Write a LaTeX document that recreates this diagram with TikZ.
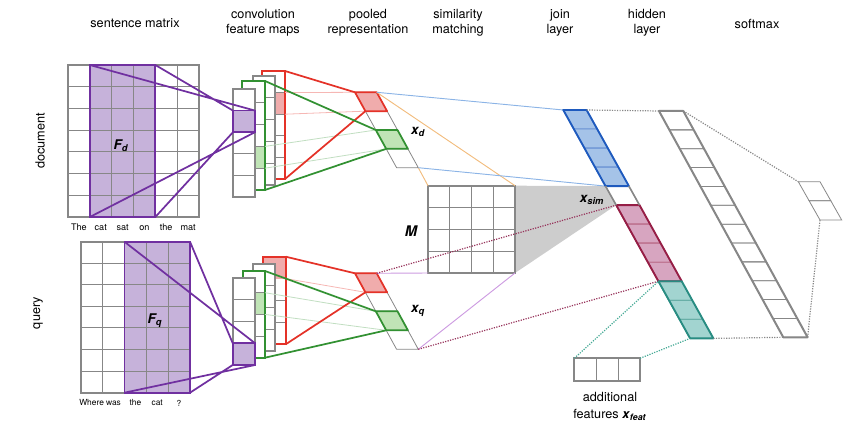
\documentclass[tikz,border=0pt]{standalone}
\usepackage{fontspec}
\setmainfont{TeX Gyre Heros}
\definecolor{gridgray}{RGB}{135,135,135}
\definecolor{purp}{RGB}{112,48,160}
\definecolor{purpfill}{RGB}{198,178,218}
\definecolor{redc}{RGB}{228,50,40}
\definecolor{redfill}{RGB}{240,172,172}
\definecolor{greenc}{RGB}{50,145,50}
\definecolor{greenfill}{RGB}{192,228,182}
\definecolor{bluec}{RGB}{30,90,190}
\definecolor{bluefill}{RGB}{165,195,232}
\definecolor{pinkc}{RGB}{150,30,70}
\definecolor{pinkfill}{RGB}{215,165,192}
\definecolor{tealc}{RGB}{40,140,130}
\definecolor{tealfill}{RGB}{162,212,208}
\definecolor{lblue}{RGB}{140,180,230}
\definecolor{lorange}{RGB}{242,188,125}
\definecolor{lpurp}{RGB}{205,155,225}
\definecolor{maroonc}{RGB}{150,50,90}
\definecolor{tealdot}{RGB}{70,170,150}
\definecolor{trigray}{RGB}{205,205,205}
\tikzset{
  outerline/.style={draw=gridgray,line width=1.5pt},
  innerline/.style={draw=gridgray,line width=0.75pt},
  thinline/.style={draw=gridgray,line width=0.6pt},
  purpline/.style={draw=purp,line width=1.3pt},
  redline/.style={draw=redc,line width=1.3pt},
  greenline/.style={draw=greenc,line width=1.3pt},
  fainted/.style={draw=redc!35,line width=0.6pt},
  faintgreen/.style={draw=greenc!30,line width=0.6pt},
  dotline/.style={densely dotted,line width=0.9pt},
  title/.style={font=\fontsize{9.5}{11}\selectfont,align=center},
  word/.style={font=\fontsize{6.8}{8}\selectfont},
  blab/.style={font=\fontsize{10}{12}\selectfont\bfseries\itshape},
}
% parallelogram strip: #1 x0, #2 y0, #3 width, #4 cell height, #5 shift, #6 cells
\newcommand{\stripcells}[6]{%
  \foreach \k in {1,...,#6}{%
    \draw[thinline] (#1+\k*#5-#5,#2+\k*#4-#4) -- (#1+\k*#5-#5+#3,#2+\k*#4-#4) -- (#1+\k*#5+#3,#2+\k*#4) -- (#1+\k*#5,#2+\k*#4) -- cycle;}%
}
% one colored cell: #1 x0, #2 y0, #3 w, #4 h, #5 s, #6 index(0-based), #7 draw colour, #8 fill colour, #9 line width
\newcommand{\pcell}[9]{%
  \filldraw[draw=#7,fill=#8,line width=#9,line join=round] (#1+#6*#5,#2+#6*#4) -- (#1+#6*#5+#3,#2+#6*#4) -- (#1+#6*#5+#5+#3,#2+#6*#4+#4) -- (#1+#6*#5+#5,#2+#6*#4+#4) -- cycle;}
% a column of cells: #1 x1,#2 y1,#3 x2,#4 y2,#5 rows,#6 colour
\newcommand{\fmapcol}[6]{%
  \fill[white] (#1,#2) rectangle (#3,#4);
  \foreach \r in {1,...,#5}{\draw[innerline] (#1,{#2+(#4-#2)*\r/#5}) -- (#3,{#2+(#4-#2)*\r/#5});}
}
\begin{document}
\begin{tikzpicture}[x=0.75pt,y=-0.75pt]
\useasboundingbox (0,0) rectangle (865,442);

% ---------- titles ----------
\node[title] (t1) at (135,23) {sentence matrix};
\node[title] (t2) at (263,23) {convolution\\feature maps};
\node[title] (t3) at (368,23) {pooled\\representation};
\node[title] (t4) at (458,23) {similarity\\matching};
\node[title] (t5) at (560,23) {join\\layer};
\node[title] (t6) at (647,23) {hidden\\layer};
\node[title] (t7) at (757,24) {softmax};
\node[title,rotate=90] (sd) at (40,141) {document};
\node[title,rotate=90] (sq) at (38,313) {query};

% ---------- document sentence matrix ----------
\fill[purpfill] (89.83,65) rectangle (155.33,217);
\foreach \i in {1,...,5}{\draw[innerline] ({68+\i*21.833},65) -- ++(0,152);}
\foreach \j in {1,...,6}{\draw[innerline] (68,{65+\j*21.714}) -- ++(131,0);}
\draw[outerline] (68,65) rectangle (199,217);
\draw[purpline] (89.83,65) rectangle (155.33,217);
\node[blab] (fd) at (121,146) {F\textsubscript{d}};
\foreach \w [count=\i from 0] in {The,cat,sat,on,the,mat}{
  \node[word] (dw\i) at ({68+21.833*(\i+0.5)},227.7) {\w};}

% ---------- query sentence matrix ----------
\fill[purpfill] (124.4,241.7) rectangle (190,392.7);
\foreach \i in {1,...,4}{\draw[innerline] ({80.7+\i*21.86},241.7) -- ++(0,151);}
\foreach \j in {1,...,6}{\draw[innerline] (80.7,{241.7+\j*21.571}) -- ++(109.3,0);}
\draw[outerline] (80.7,241.7) rectangle (190,392.7);
\draw[purpline] (124.4,241.7) rectangle (190,392.7);
\node[blab] (fq) at (155,321) {F\textsubscript{q}};
\foreach \w [count=\i from 0] in {Where,was,the,cat,?}{
  \node[word,font=\fontsize{6.3}{8}\selectfont] (qw\i) at ({80.7+21.86*(\i+0.5)},403) {\w};}

% ---------- document feature maps ----------
\fmapcol{262}{71}{285}{179}{5}{red}
\fill[redfill] (262,92.6) rectangle (285,114.2);
\draw[redline] (262,71) rectangle (285,179);
\fmapcol{253}{76}{275}{185}{5}{gray}
\draw[outerline] (253,76) rectangle (275,185);
\fmapcol{242}{81}{265}{190}{5}{green}
\fill[greenfill] (242,146.4) rectangle (265,168.2);
\draw[innerline] (242,146.4) -- (265,146.4) (242,168.2) -- (265,168.2);
\draw[greenline] (242,81) rectangle (265,190);
\fmapcol{233}{89}{255}{197}{5}{gray}
\draw[outerline] (233,89) rectangle (255,197);
\filldraw[purpline,fill=purpfill] (233,110.6) rectangle (255,132.2);

% ---------- query feature maps ----------
\fmapcol{263.3}{256.7}{285.7}{344.3}{4}{red}
\fill[redfill] (263.3,256.7) rectangle (285.7,278.6);
\draw[redline] (263.3,256.7) rectangle (285.7,344.3);
\fmapcol{252.7}{264}{275}{351}{4}{gray}
\draw[outerline] (252.7,264) rectangle (275,351);
\fmapcol{242.7}{271}{265}{357.7}{4}{green}
\fill[greenfill] (242.7,292.7) rectangle (265,314.4);
\draw[innerline] (242.7,292.7) -- (265,292.7) (242.7,314.4) -- (265,314.4);
\draw[greenline] (242.7,271) rectangle (265,357.7);
\fmapcol{232.7}{277.7}{255}{365}{4}{gray}
\draw[outerline] (232.7,277.7) rectangle (255,365);
\filldraw[purpline,fill=purpfill] (232.7,343.2) rectangle (255,365);

% ---------- filter connectors ----------
\draw[purpline] (89.83,65) -- (255,110.6) (155.33,65) -- (233,110.6)
  (89.83,217) -- (255,132.2) (155.33,217) -- (233,132.2);
\draw[purpline] (124.4,241.7) -- (255,343.2) (190,241.7) -- (232.7,343.2)
  (124.4,392.7) -- (255,365) (190,392.7) -- (232.7,365);

% ---------- pooled strips ----------
\stripcells{355}{92.3}{21.7}{18.85}{10.4}{4}
\stripcells{355}{273.3}{21.7}{19}{10.4}{4}

% faint lines
\draw[fainted] (285,92.6) -- (355,92.3) (285,114.2) -- (365.4,111.15);
\draw[faintgreen] (265,146.4) -- (375.8,130) (265,168.2) -- (386.2,148.9);
\draw[fainted] (285.7,278.6) -- (365.4,292.3);
\draw[faintgreen] (265,292.7) -- (375.8,311.3) (265,314.4) -- (386.2,330.3);

% strong lines
\draw[redline] (285,71) -- (355,92.3) (285,179) -- (365.4,111.15);
\draw[greenline] (265,81) -- (375.8,130) (265,190) -- (386.2,148.9);
\draw[redline] (285.7,256.7) -- (355,273.3) (285.7,344.3) -- (365.4,292.3);
\draw[greenline] (265,271) -- (375.8,311.3) (265,357.7) -- (386.2,330.3);

\pcell{355}{92.3}{21.7}{18.85}{10.4}{0}{redc}{redfill}{1.3pt}
\pcell{355}{92.3}{21.7}{18.85}{10.4}{2}{greenc}{greenfill}{1.3pt}
\pcell{355}{273.3}{21.7}{19}{10.4}{0}{redc}{redfill}{1.3pt}
\pcell{355}{273.3}{21.7}{19}{10.4}{2}{greenc}{greenfill}{1.3pt}
\node[blab] (xd) at (418,132) {x\textsubscript{d}};
\node[blab] (xq) at (418,311) {x\textsubscript{q}};

% ---------- similarity matrix ----------
\fill[trigray] (515,185.7) -- (605.5,186.1) -- (616,205.2) -- (515,273) -- cycle;
\fill[white] (428,185.7) rectangle (515,273);
\foreach \i in {1,2,3}{\draw[innerline] ({428+\i*21.75},185.7) -- ++(0,87.3);
  \draw[innerline] (428,{185.7+\i*21.825}) -- ++(87,0);}
\draw[outerline] (428,185.7) rectangle (515,273);
\node[blab,font=\fontsize{11}{13}\selectfont\bfseries\itshape] (M) at (411,231) {M};

\coordinate (dTR) at (376.7,92.3);
\coordinate (dBR) at (418.3,167.7);
\coordinate (qTR) at (376.7,273.3);
\coordinate (qBR) at (418.3,349.3);
\draw[lorange,line width=0.7pt] (dTR) -- (515,185.7) (dBR) -- (428,185.7);
\draw[lblue,line width=0.7pt] (dTR) -- (563.3,110) (dBR) -- (605.5,186.1);
\draw[lpurp,line width=0.7pt] (qTR) -- (428,273) (qBR) -- (515,273);
\draw[maroonc,dotline] (qTR) -- (616,205.2) (qBR) -- (658.3,281.3);

% ---------- join layer ----------
\stripcells{563.3}{110}{23.3}{19.03}{10.55}{12}
\foreach \c in {0,...,3}{\pcell{563.3}{110}{23.3}{19.03}{10.55}{\c}{bluec!70}{bluefill}{0.7pt}}
\foreach \c in {5,...,8}{\pcell{563.3}{110}{23.3}{19.03}{10.55}{\c}{pinkc!70}{pinkfill}{0.7pt}}
\foreach \c in {9,...,11}{\pcell{563.3}{110}{23.3}{19.03}{10.55}{\c}{tealc!70}{tealfill}{0.7pt}}
\draw[line width=1.4pt,draw=bluec,line join=round] (563.3,110) -- (586.6,110) -- (628.9,186.1) -- (605.5,186.1) -- cycle;
\draw[line width=1.4pt,draw=pinkc,line join=round] (616.25,205.15) -- (639.55,205.15) -- (681.75,281.3) -- (658.45,281.3) -- cycle;
\draw[line width=1.4pt,draw=tealc,line join=round] (658.45,281.3) -- (681.75,281.3) -- (713.4,338.4) -- (690.1,338.4) -- cycle;
\draw[gridgray,line width=1.2pt] (605.5,186.1) -- (616.25,205.15) (628.9,186.1) -- (639.55,205.15);
\node[blab] (xs) at (592,200) {x\textsubscript{sim}};

% ---------- additional features ----------
\draw[innerline] (596.2,358.3) -- (596.2,380.7) (618.1,358.3) -- (618.1,380.7);
\draw[outerline] (574.3,358.3) rectangle (640,380.7);
\node[title] (af1) at (610,397) {additional};
\node[title] (af2) at (610,415) {features \textbf{\textit{x}}\textsubscript{\textbf{\textit{feat}}}};
\draw[tealdot,dotline] (574.3,358.3) -- (658.45,281.3) (640,358.3) -- (690.1,338.4);

% ---------- hidden layer ----------
\stripcells{659}{111}{24.3}{18.86}{10.36}{12}
\draw[outerline,line join=round] (659,111) -- (683.3,111) -- (807.6,337.3) -- (783.3,337.3) -- cycle;

% ---------- softmax ----------
\stripcells{798.3}{181.7}{21.7}{19.15}{10.85}{2}

% gray dotted connectors
\draw[gridgray,dotline] (586.6,110) -- (659,111) (713.4,338.4) -- (783.3,337.3);
\draw[gridgray,dotline] (683.3,111) -- (798.3,181.7) (807.6,337.3) -- (820,220);
\end{tikzpicture}
\end{document}
